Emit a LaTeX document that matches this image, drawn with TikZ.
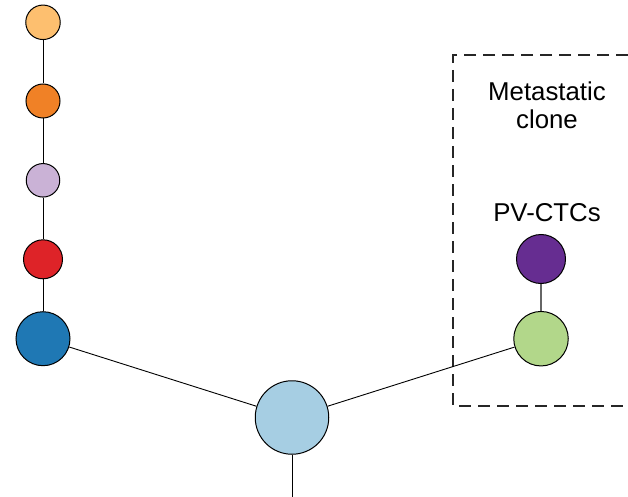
\documentclass[tikz,border=0pt]{standalone}
\usepackage{fontspec}
\setmainfont{Liberation Sans}
\begin{document}
\begin{tikzpicture}[x=1pt,y=-1pt,
  clone/.style={circle,draw=black,line width=1pt,inner sep=0pt,minimum size=#1},
  edge/.style={draw=black,line width=0.9pt},
  lbl/.style={font=\fontsize{25.8}{28}\selectfont,align=center,inner sep=0pt}]
\useasboundingbox (0,0) rectangle (628,497);
% metastatic clone box (open to the right)
\draw[line width=1.1pt,dash pattern=on 12pt off 7pt,draw=black!85]
  (628,55) -- (453,55) -- (453,406) -- (628,406);
\node[lbl,anchor=base] (meta) at (547,129) {Metastatic\\clone};
\node[lbl,anchor=base] (pv) at (547,221.5) {PV-CTCs};
% clones
\node[clone=34.5pt,fill={rgb,255:red,253;green,191;blue,111}] (c1) at (43,22.3) {};
\node[clone=34pt,fill={rgb,255:red,240;green,129;blue,38}] (c2) at (43,101) {};
\node[clone=33.5pt,fill={rgb,255:red,202;green,178;blue,214}] (c3) at (43,180.3) {};
\node[clone=39pt,fill={rgb,255:red,222;green,35;blue,40}] (c4) at (43,259.3) {};
\node[clone=54pt,fill={rgb,255:red,31;green,120;blue,180}] (c5) at (43,338.7) {};
\node[clone=73.5pt,fill={rgb,255:red,166;green,206;blue,227}] (root) at (292,417.5) {};
\node[clone=54.5pt,fill={rgb,255:red,178;green,215;blue,138}] (green) at (541,338.7) {};
\node[clone=49pt,fill={rgb,255:red,102;green,45;blue,145}] (purple) at (541,259) {};
\coordinate (bottom) at (292,497);
% connectors
\draw[edge] (c1) -- (c2);
\draw[edge] (c2) -- (c3);
\draw[edge] (c3) -- (c4);
\draw[edge] (c4) -- (c5);
\draw[edge] (c5) -- (root);
\draw[edge] (root) -- (green);
\draw[edge] (root) -- (bottom);
\draw[draw=black!60,line width=2pt] (purple) -- (green);
\end{tikzpicture}
\end{document}
